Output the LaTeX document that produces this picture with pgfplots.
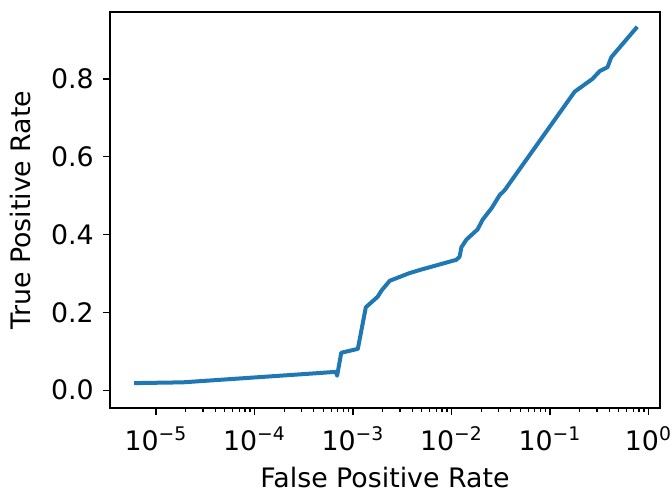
\documentclass[border=0pt]{standalone}
\usepackage{fontspec}
\setmainfont{DejaVu Sans}
\usepackage{pgfplots}
\pgfplotsset{compat=1.18}
\definecolor{tabblue}{HTML}{1F77B4}
\begin{document}
\fontsize{13.4}{16}\selectfont
\begin{tikzpicture}
\begin{semilogxaxis}[
  scale only axis,
  width=275pt,height=198pt,
  xmin=3.41e-6,xmax=1.31,
  ymin=-0.046,ymax=0.972,
  xtick={1e-5,1e-4,1e-3,1e-2,1e-1,1},
  xticklabels={10\textsuperscript{−5},10\textsuperscript{−4},10\textsuperscript{−3},10\textsuperscript{−2},10\textsuperscript{−1},10\textsuperscript{0}},
  ytick={0,0.2,0.4,0.6,0.8},
  yticklabels={0.0,0.2,0.4,0.6,0.8},
  tick pos=left,
  tick align=outside,
  major tick length=3.5pt,
  minor tick length=2pt,
  every tick/.style={black,line width=0.6pt},
  axis line style={line width=0.8pt},
  tick label style={font=\fontsize{13.4}{16}\selectfont},
  label style={font=\fontsize{13.4}{16}\selectfont},
  xticklabel style={yshift=-1pt},
  xlabel={False Positive Rate},
  ylabel={True Positive Rate},
  xlabel style={yshift=-2.5pt,inner sep=1pt},
  ylabel style={yshift=1pt},
  /pgf/number format/assume math mode=true,
]
\addplot[color=tabblue,line width=2pt,line join=round] coordinates {
(6.0e-6,0.018) (1.88e-5,0.020) (4.6e-4,0.044) (6.7e-4,0.047)
(6.9e-4,0.037) (7.6e-4,0.096) (1.12e-3,0.106) (1.35e-3,0.213)
(1.78e-3,0.240) (1.95e-3,0.256) (2.36e-3,0.281) (3.77e-3,0.301)
(4.8e-3,0.309) (1.12e-2,0.335) (1.21e-2,0.343) (1.26e-2,0.367)
(1.42e-2,0.387) (1.84e-2,0.413) (2.07e-2,0.438) (2.56e-2,0.468)
(3.08e-2,0.501) (3.47e-2,0.514) (0.178,0.767) (0.27,0.800)
(0.32,0.820) (0.384,0.830) (0.42,0.856) (0.77,0.934)
};
\end{semilogxaxis}
\pgfresetboundingbox
\path ([shift={(-55pt,-43pt)}]current axis.south west) rectangle ([shift={(6pt,6pt)}]current axis.north east);
\end{tikzpicture}
\end{document}
